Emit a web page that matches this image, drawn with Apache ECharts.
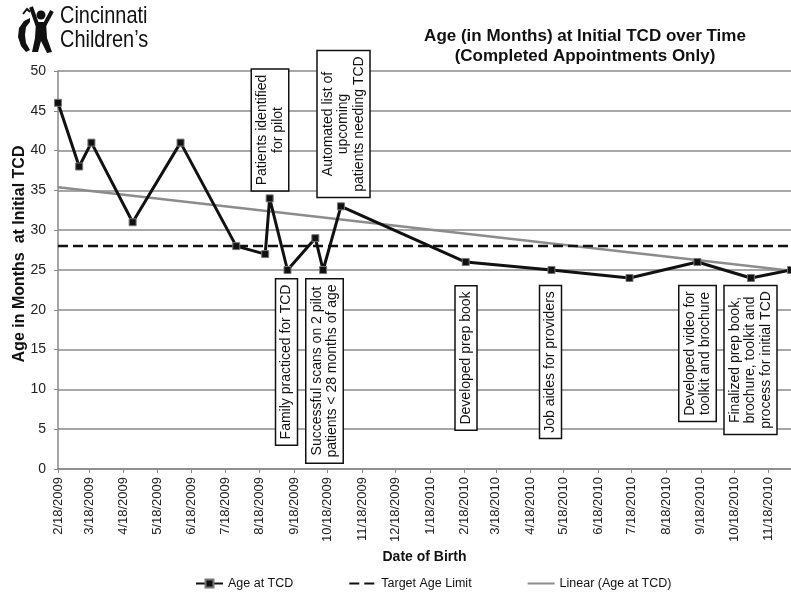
<!DOCTYPE html>
<html>
<head>
<meta charset="utf-8">
<script src="https://cdn.jsdelivr.net/npm/echarts@6/dist/echarts.min.js"></script>
<style>
html,body{margin:0;padding:0;background:#fff;}
#chart{width:791px;height:597px;}
</style>
</head>
<body>
<div id="chart"></div>
<script>
// ---- data ----
const birthDates = ['2009-02-18','2009-03-09','2009-03-20','2009-04-26','2009-06-08','2009-07-28',
  '2009-08-23','2009-08-27','2009-09-12','2009-10-07','2009-10-14','2009-10-30',
  '2010-02-19','2010-05-07','2010-07-16','2010-09-15','2010-11-02','2010-12-08'];
const ageAtTCD = [46,38,41,31,41,28,27,34,25,29,25,33,26,25,24,26,24,25];
const targetAgeLimit = 28;
const trendDates = ['2009-02-18','2010-12-08'];
const trendValues = [35.4, 24.9];
const tickDates = ['2009-02-18','2009-03-18','2009-04-18','2009-05-18','2009-06-18','2009-07-18',
  '2009-08-18','2009-09-18','2009-10-18','2009-11-18','2009-12-18','2010-01-18','2010-02-18',
  '2010-03-18','2010-04-18','2010-05-18','2010-06-18','2010-07-18','2010-08-18','2010-09-18',
  '2010-10-18','2010-11-18'];
const yTicks = [0,5,10,15,20,25,30,35,40,45,50];
const annotations = [
  'Patients identified\nfor pilot',
  'Automated list of\nupcoming\npatients needing TCD',
  'Family practiced for TCD',
  'Successful scans on 2 pilot\npatients < 28 months of age',
  'Developed prep book',
  'Job aides for providers',
  'Developed video for\ntoolkit and brochure',
  'Finalized prep book,\nbrochure, toolkit and\nprocess for initial TCD'
];

// ---- helpers ----
function ts(s){const p=s.split('-').map(Number);return Date.UTC(p[0],p[1]-1,p[2]);}
const tickTs = tickDates.map(ts);
const xMin = ts(birthDates[0]);
const xMax = ts(birthDates[birthDates.length-1]);

// annotation box centres (layout)
const annPos = [[270,130],[343.5,124],[286.5,362],[324.5,371],[466,358],[550.5,362],[697.5,353.5],[750.5,360]];

const FONT = '"Liberation Sans", Arial, sans-serif';

const graphics = annotations.map((t,i)=>({
  type:'text', x:annPos[i][0], y:annPos[i][1], rotation:Math.PI/2, z:100,
  style:{text:t, fill:'#111', font:'14px '+FONT, align:'center', verticalAlign:'middle',
    lineHeight:15.5, backgroundColor:'#fff', borderColor:'#111', borderWidth:1.5, padding:[3,5,2,5]}
}));

// logo text
graphics.push({type:'text', x:60, y:4, scaleX:0.83, z:100, style:{text:'Cincinnati\nChildren\u2019s', fill:'#111',
  font:'24px "Liberation Sans", sans-serif', lineHeight:24}});
// logo figure (approximate)
graphics.push({type:'group', z:100, children:[
  {type:'circle', shape:{cx:41,cy:15,r:4.5}, style:{fill:'#111'}},
  {type:'polyline', shape:{points:[[31,7],[37,24],[45,24],[52,11]]}, style:{stroke:'#111',lineWidth:4,fill:null}},
  {type:'polygon', shape:{points:[[36,22],[46,22],[47,38],[52,52],[47,53],[41,41],[38,52],[32,52],[35,38]]}, style:{fill:'#111'}},
  {type:'polygon', shape:{points:[[30,18],[24,21],[19,28],[18,37],[21,46],[26,52],[30,50],[26,43],[25,35],[26,27],[30,22]]}, style:{fill:'#111'}},
  {type:'polyline', shape:{points:[[23,14],[27,9],[30,12]]}, style:{stroke:'#111',lineWidth:2,fill:null}}
]});

function fmtDate(v){const d=new Date(v);return (d.getUTCMonth()+1)+'/'+d.getUTCDate()+'/'+d.getUTCFullYear();}

const chart = echarts.init(document.getElementById('chart'), null, {renderer:'canvas'});
chart.setOption({
  animation:false,
  backgroundColor:'#fff',
  textStyle:{fontFamily:FONT},
  title:{text:'Age (in Months) at Initial TCD over Time\n(Completed Appointments Only)', left:580, top:21,
    textAlign:'center', textStyle:{fontSize:17, fontWeight:'bold', color:'#111', lineHeight:20, fontFamily:FONT}},
  grid:{left:58, right:0, top:71, bottom:128, containLabel:false, outerBoundsMode:'none'},
  legend:{left:195, top:577, padding:0, itemGap:55, itemWidth:27, itemHeight:10,
    textStyle:{fontSize:12.5, color:'#111', fontFamily:FONT},
    data:['Age at TCD',
      {name:'Target Age Limit', itemStyle:{opacity:0}},
      {name:'Linear (Age at TCD)', itemStyle:{opacity:0}}]},
  xAxis:{type:'value', min:xMin, max:xMax,
    name:'Date of Birth', nameLocation:'middle', nameGap:80,
    nameTextStyle:{fontSize:14, fontWeight:'bold', color:'#111', fontFamily:FONT},
    axisLine:{lineStyle:{color:'#888', width:1.5}},
    axisTick:{show:true, customValues:tickTs, length:4, lineStyle:{color:'#888'}},
    splitLine:{show:false},
    axisLabel:{customValues:tickTs, rotate:90, fontSize:13, color:'#222', margin:8, fontFamily:FONT,
      formatter:fmtDate}
  },
  yAxis:{type:'value', min:yTicks[0], max:yTicks[yTicks.length-1], interval:5,
    name:'Age in Months  at Initial TCD', nameLocation:'middle', nameGap:30, nameMoveOverlap:false,
    nameTextStyle:{fontSize:16, fontWeight:'bold', color:'#111', fontFamily:FONT, padding:[0,0,0,32]},
    axisLine:{show:true, lineStyle:{color:'#888', width:1.5}},
    axisTick:{show:true, length:4, lineStyle:{color:'#888'}},
    axisLabel:{fontSize:14, color:'#222', margin:12, fontFamily:FONT},
    splitLine:{lineStyle:{color:'#8a8a8a', width:1.5}}
  },
  series:[
    {name:'Linear (Age at TCD)', type:'line', data:trendDates.map((d,i)=>[ts(d),trendValues[i]]),
      showSymbol:false, symbol:'none', lineStyle:{color:'#8c8c8c', width:2.5}, itemStyle:{color:'#8c8c8c'}, z:2},
    {name:'Target Age Limit', type:'line', data:[[xMin,targetAgeLimit],[xMax,targetAgeLimit]],
      showSymbol:false, symbol:'none', lineStyle:{color:'#111', width:2.5, type:[10,5]}, itemStyle:{color:'#111'}, z:3},
    {name:'Age at TCD', type:'line', data:birthDates.map((d,i)=>[ts(d),ageAtTCD[i]]),
      symbol:'rect', symbolSize:7, lineStyle:{color:'#111', width:3}, 
      itemStyle:{color:'#111', borderColor:'#777', borderWidth:1}, z:4}
  ],
  graphic:graphics
});
</script>
</body>
</html>
